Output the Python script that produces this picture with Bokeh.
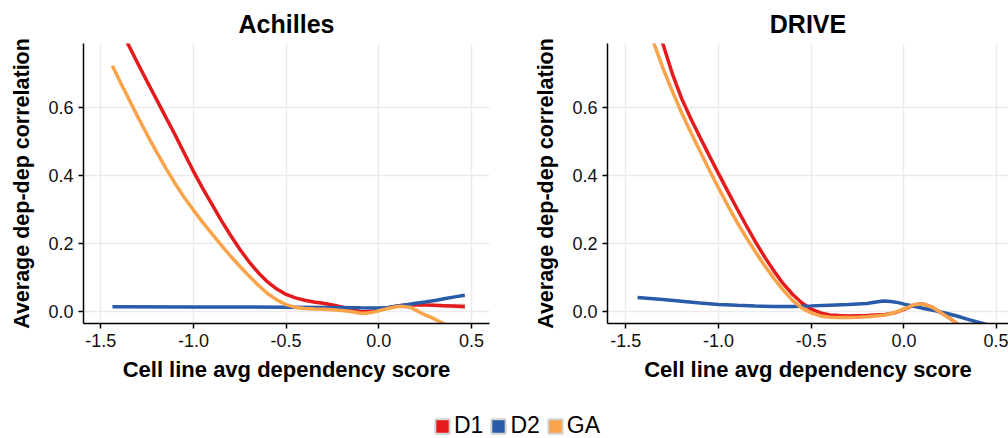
from bokeh.plotting import figure
from bokeh.layouts import column, row
from bokeh.models import Range1d, FixedTicker, Legend, LegendItem
from bokeh.embed import file_html
from bokeh.resources import INLINE

# ---------------- data ----------------
series_names = ["D1", "D2", "GA"]
panel_titles = ["Achilles", "DRIVE"]
x_label = "Cell line avg dependency score"
y_label = "Average dep-dep correlation"

x_ticks = [-1.5, -1.0, -0.5, 0.0, 0.5]
x_tick_labels = ["-1.5", "-1.0", "-0.5", "0.0", "0.5"]
y_ticks = [0.0, 0.2, 0.4, 0.6]
y_tick_labels = ["0.0", "0.2", "0.4", "0.6"]

# Achilles
ach_d1_x = [-1.43, -1.35, -1.3, -1.25, -1.2, -1.15, -1.1, -1.05, -1.0, -0.95, -0.9, -0.85, -0.8, -0.75, -0.7,
            -0.65, -0.6, -0.55, -0.5, -0.45, -0.4, -0.35, -0.3, -0.25, -0.2, -0.15, -0.1, -0.07, -0.03, 0.0,
            0.05, 0.1, 0.15, 0.2, 0.25, 0.3, 0.35, 0.4, 0.464]
ach_d1_y = [0.87, 0.783, 0.729, 0.676, 0.624, 0.572, 0.52, 0.466, 0.412, 0.362, 0.315, 0.268, 0.224, 0.183, 0.146,
            0.114, 0.087, 0.066, 0.05, 0.04, 0.033, 0.028, 0.024, 0.019, 0.013, 0.006, 0.0, -0.001, 0.001, 0.004,
            0.011, 0.016, 0.019, 0.0197, 0.019, 0.018, 0.017, 0.016, 0.0147]
ach_d1_se = [0.02, 0.012, 0.009, 0.007, 0.006, 0.005, 0.004, 0.004, 0.004, 0.003, 0.003, 0.003, 0.003, 0.003, 0.003,
             0.003, 0.003, 0.003, 0.003, 0.003, 0.003, 0.003, 0.003, 0.003, 0.003, 0.003, 0.003, 0.003, 0.003, 0.003,
             0.003, 0.003, 0.003, 0.0035, 0.004, 0.005, 0.006, 0.007, 0.009]
ach_d2_x = [-1.437, -1.0, -0.5, -0.25, -0.1, 0.0, 0.05, 0.1, 0.15, 0.2, 0.25, 0.31, 0.36, 0.41, 0.464]
ach_d2_y = [0.0137, 0.0135, 0.0125, 0.012, 0.011, 0.0105, 0.012, 0.016, 0.02, 0.024, 0.028, 0.033, 0.038, 0.043, 0.048]
ach_ga_x = [-1.437, -1.4, -1.35, -1.3, -1.25, -1.2, -1.15, -1.1, -1.05, -1.0, -0.95, -0.9, -0.85, -0.8, -0.75,
            -0.7, -0.65, -0.6, -0.55, -0.5, -0.45, -0.4, -0.35, -0.3, -0.25, -0.2, -0.15, -0.1, -0.07, -0.03,
            0.0, 0.05, 0.1, 0.13, 0.17, 0.2, 0.24, 0.3, 0.35, 0.40, 0.47]
ach_ga_y = [0.7225, 0.68, 0.626, 0.572, 0.52, 0.47, 0.422, 0.377, 0.336, 0.298, 0.262, 0.228, 0.195, 0.163, 0.133,
            0.104, 0.077, 0.053, 0.034, 0.02, 0.012, 0.009, 0.0075, 0.0065, 0.005, 0.003, 0.0, -0.005, -0.005, -0.002,
            0.002, 0.009, 0.0145, 0.015, 0.012, 0.004, -0.008, -0.022, -0.036, -0.052, -0.075]

# DRIVE
drv_d1_x = [-1.43, -1.35, -1.3, -1.25, -1.2, -1.15, -1.1, -1.05, -1.0, -0.95, -0.9, -0.85, -0.8, -0.75, -0.7,
            -0.65, -0.6, -0.55, -0.5, -0.45, -0.4, -0.35, -0.3, -0.25, -0.2, -0.15, -0.1, -0.05, 0.0, 0.05,
            0.08, 0.11, 0.15, 0.2, 0.25, 0.30]
drv_d1_y = [1.04, 0.88, 0.786, 0.70, 0.627, 0.567, 0.512, 0.458, 0.405, 0.353, 0.302, 0.252, 0.204, 0.159, 0.118,
            0.081, 0.05, 0.025, 0.007, -0.004, -0.01, -0.012, -0.013, -0.0125, -0.012, -0.0105, -0.009, -0.004, 0.006, 0.018,
            0.022, 0.021, 0.013, -0.004, -0.021, -0.042]
drv_d2_x = [-1.437, -1.3, -1.2, -1.1, -1.0, -0.9, -0.8, -0.7, -0.6, -0.5, -0.4, -0.3, -0.2, -0.15, -0.11,
            -0.07, -0.03, 0.0, 0.05, 0.107, 0.17, 0.233, 0.29, 0.341, 0.39, 0.43, 0.47]
drv_d2_y = [0.041, 0.035, 0.03, 0.025, 0.0206, 0.018, 0.016, 0.0148, 0.0148, 0.0165, 0.0185, 0.0205, 0.0235, 0.028, 0.031,
            0.0295, 0.026, 0.0216, 0.016, 0.009, 0.002, -0.006, -0.014, -0.0226, -0.03, -0.036, -0.042]
drv_ga_x = [-1.43, -1.4, -1.35, -1.3, -1.25, -1.2, -1.15, -1.1, -1.05, -1.0, -0.95, -0.9, -0.85, -0.8, -0.75,
            -0.7, -0.65, -0.6, -0.55, -0.5, -0.45, -0.4, -0.35, -0.3, -0.25, -0.2, -0.15, -0.1, -0.05, 0.0,
            0.05, 0.08, 0.11, 0.15, 0.2, 0.25, 0.30]
drv_ga_y = [0.96, 0.89, 0.79, 0.715, 0.648, 0.585, 0.527, 0.471, 0.416, 0.363, 0.311, 0.262, 0.217, 0.174, 0.134,
            0.096, 0.062, 0.032, 0.01, -0.004, -0.013, -0.017, -0.018, -0.018, -0.017, -0.0155, -0.013, -0.01, -0.003, 0.008,
            0.019, 0.022, 0.021, 0.013, -0.004, -0.021, -0.042]

colors = {"D1": "#E41A1C", "D2": "#2A5BA8", "GA": "#F9A34A"}

FONT = "Liberation Sans"


def make_panel(title, width, border_left, border_right, x_start, x_end, data, band=None, title_offset=0):
    p = figure(width=width, height=395, toolbar_location=None, output_backend="svg",
               x_range=Range1d(x_start, x_end), y_range=Range1d(-0.0353, 0.7876),
               min_border_left=border_left, min_border_right=border_right,
               min_border_top=43, min_border_bottom=72)
    p.outline_line_color = None
    p.background_fill_color = "white"
    p.border_fill_color = "white"

    p.title.text = title
    p.title.align = "center"
    p.title.text_font = FONT
    p.title.text_font_size = "25px"
    p.title.text_font_style = "bold"
    p.title.text_color = "black"
    p.title.standoff = 11
    p.title.offset = title_offset

    p.xaxis.ticker = FixedTicker(ticks=x_ticks)
    p.yaxis.ticker = FixedTicker(ticks=y_ticks)
    p.xaxis.major_label_overrides = {t: s for t, s in zip(x_ticks, x_tick_labels)}
    p.yaxis.major_label_overrides = {t: s for t, s in zip(y_ticks, y_tick_labels)}

    for ax in (p.xaxis[0], p.yaxis[0]):
        ax.axis_line_color = "black"
        ax.axis_line_width = 1.5
        ax.major_tick_line_color = "black"
        ax.major_tick_line_width = 1.5
        ax.major_tick_out = 5
        ax.major_tick_in = 0
        ax.minor_tick_line_color = None
        ax.major_label_text_font = FONT
        ax.major_label_text_font_size = "18px"
        ax.major_label_text_color = "#111111"
        ax.major_label_standoff = 5
        ax.axis_label_text_font = FONT
        ax.axis_label_text_font_style = "bold"
        ax.axis_label_text_color = "black"
    p.xaxis.axis_label_text_font_size = "22px"
    p.yaxis.axis_label_text_font_size = "21.5px"
    p.xaxis.axis_label = x_label
    p.yaxis.axis_label = y_label
    p.xaxis.axis_label_standoff = 7
    p.yaxis.axis_label_standoff = 11

    p.xgrid.grid_line_color = "#ebebeb"
    p.ygrid.grid_line_color = "#ebebeb"
    p.xgrid.grid_line_width = 1.5
    p.ygrid.grid_line_width = 1.5

    if band is not None:
        bx, by, bse = band
        p.varea(x=bx, y1=[v - s for v, s in zip(by, bse)], y2=[v + s for v, s in zip(by, bse)],
                fill_color="#999999", fill_alpha=0.35)

    renderers = {}
    for name in series_names:
        xs, ys = data[name]
        renderers[name] = p.line(xs, ys, line_color=colors[name], line_width=3.5)
    return p, renderers


p1, r1 = make_panel(panel_titles[0], 504, 83, 15, -1.593, 0.597,
                    {"D1": (ach_d1_x, ach_d1_y), "D2": (ach_d2_x, ach_d2_y), "GA": (ach_ga_x, ach_ga_y)},
                    band=(ach_d1_x, ach_d1_y, ach_d1_se))
p2, r2 = make_panel(panel_titles[1], 504, 103, 0, -1.599, 0.564,
                    {"D1": (drv_d1_x, drv_d1_y), "D2": (drv_d2_x, drv_d2_y), "GA": (drv_ga_x, drv_ga_y)},
                    title_offset=2)

# legend strip
leg = figure(width=1008, height=43, toolbar_location=None, output_backend="svg",
             x_range=Range1d(0, 1), y_range=Range1d(0, 1),
             min_border=0, min_border_left=0, min_border_right=0, min_border_top=0, min_border_bottom=0)
leg.axis.visible = False
leg.xgrid.visible = False
leg.ygrid.visible = False
leg.outline_line_color = None
items = []
for name in series_names:
    # anchor glyph kept outside the visible range; only its legend key is seen
    r = leg.rect(x=[-5], y=[-5], width=0.01, height=0.01, fill_color=colors[name],
                 line_color="#d4d4d4", line_width=2)
    items.append(LegendItem(label=name, renderers=[r]))
legend = Legend(items=items, orientation="horizontal", location=(433, -1),
                glyph_width=18, glyph_height=18, label_standoff=3, spacing=6,
                padding=0, margin=0, border_line_color=None, background_fill_alpha=0,
                label_text_font=FONT, label_text_font_size="23px", label_text_color="black")
leg.add_layout(legend)

layout = column(row(p1, p2), leg)
open("out.html", "w").write(file_html(layout, INLINE))
